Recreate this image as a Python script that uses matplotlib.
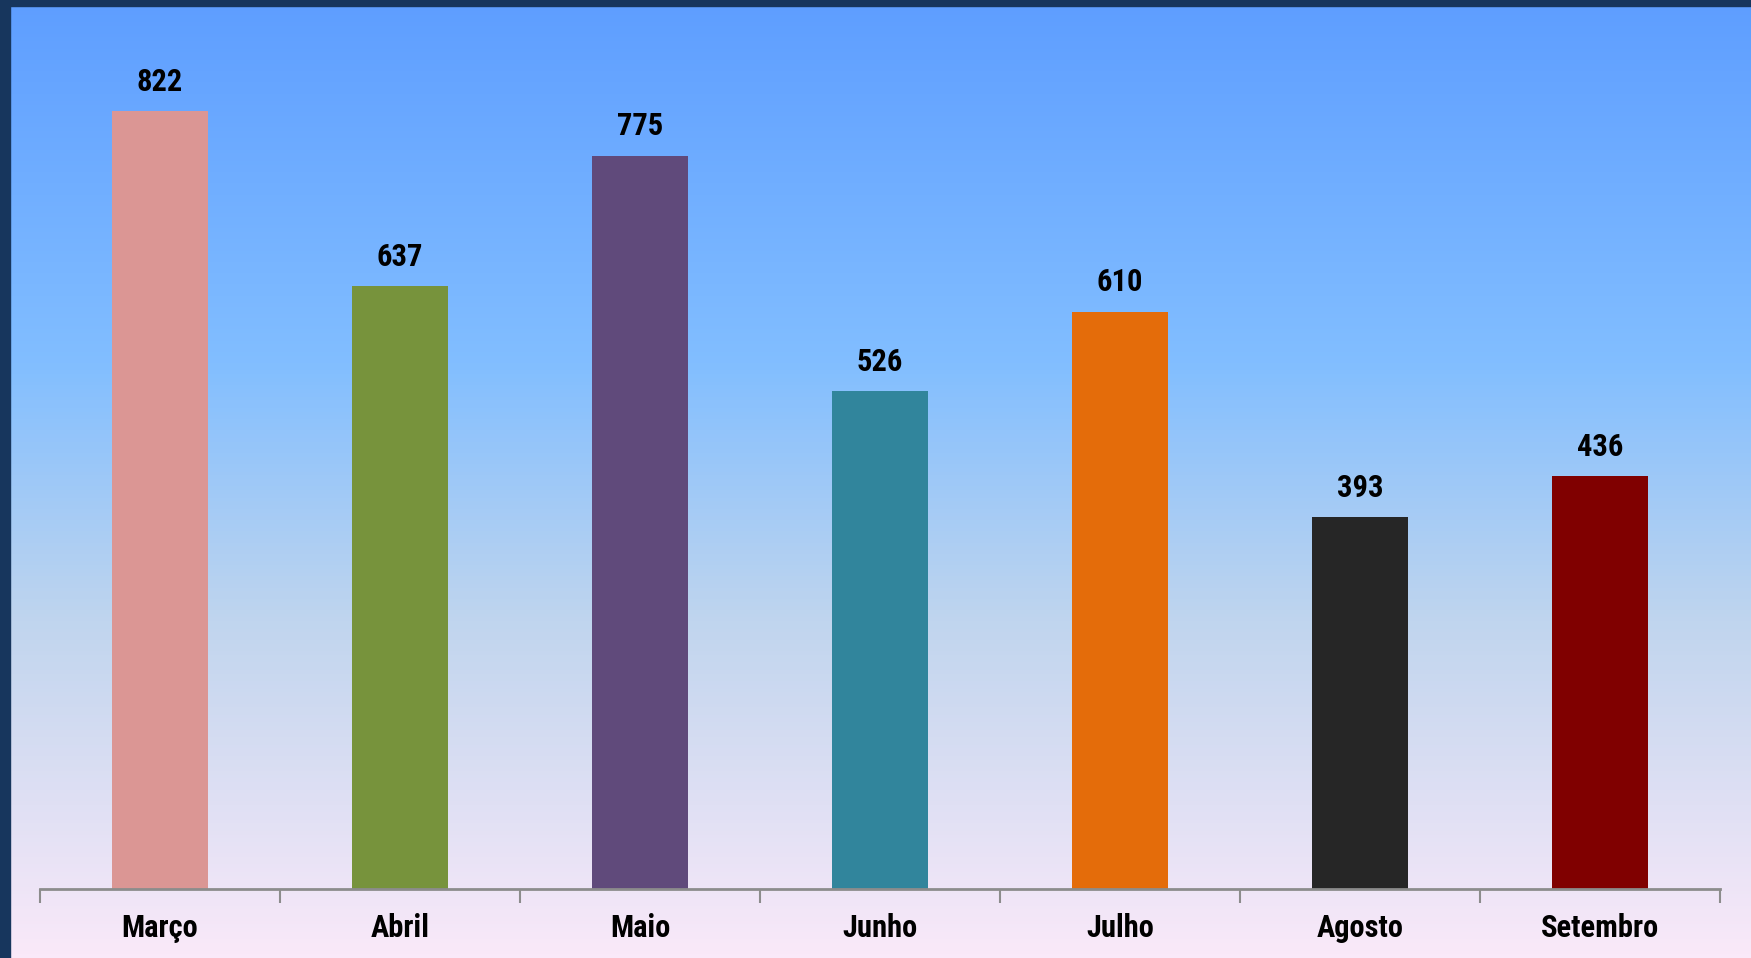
import matplotlib
matplotlib.use("Agg")
import matplotlib.pyplot as plt
import numpy as np
from matplotlib.colors import LinearSegmentedColormap
from matplotlib.patches import Rectangle

months = ["Março", "Abril", "Maio", "Junho", "Julho", "Agosto", "Setembro"]
values = [822, 637, 775, 526, 610, 393, 436]
colors = ["#DB9694", "#77933C", "#604A7B", "#31859C", "#E46C0A", "#262626", "#800000"]

FONT = ["Roboto Condensed", "Liberation Sans Narrow", "Roboto", "DejaVu Sans"]

fig = plt.figure(figsize=(17.51, 9.58), dpi=100)

# background gradient (top blue -> bottom pale pink)
bg = fig.add_axes([0, 0, 1, 1], zorder=0)
cmap = LinearSegmentedColormap.from_list(
    "bg",
    [(0.0, "#5E9EFF"), (0.38, "#82BEFF"), (0.65, "#C0D5EE"), (1.0, "#FAE9F9")],
)
grad = np.linspace(0, 1, 256).reshape(-1, 1)
bg.imshow(grad, aspect="auto", cmap=cmap, extent=[0, 1, 0, 1], origin="upper")
bg.set_axis_off()

# dark frame on left and top
fig.patches.append(Rectangle((0, 0), 10 / 1751, 1, transform=fig.transFigure,
                             color="#17365D", zorder=5))
fig.patches.append(Rectangle((0, 1 - 6 / 958), 1, 6 / 958, transform=fig.transFigure,
                             color="#17365D", zorder=5))

ax = fig.add_axes([40 / 1751, 1 - 889 / 958, 1680 / 1751, 883 / 958], zorder=1)
ax.patch.set_alpha(0)
x = np.arange(len(months))
bars = ax.bar(x, values, width=0.4, color=colors)
ax.set_xlim(-0.5, len(months) - 0.5)
ax.set_ylim(0, 933)

for xi, v in zip(x, values):
    ax.text(xi, v + 15, str(v), ha="center", va="bottom", fontsize=22,
            fontweight="bold", family=FONT)

for s in ["top", "right", "left"]:
    ax.spines[s].set_visible(False)
ax.spines["bottom"].set_color("#8C8C8C")
ax.spines["bottom"].set_linewidth(2)
ax.set_yticks([])
ax.set_xticks(np.arange(-0.5, len(months)), minor=False)
ax.set_xticklabels([])
ax.tick_params(axis="x", which="major", length=10, width=1.5, color="#8C8C8C")
ax.set_xticks(x, minor=True)
ax.set_xticklabels(months, minor=True, fontsize=22, fontweight="bold", family=FONT)
ax.tick_params(axis="x", which="minor", length=0, pad=17)

fig.savefig("out.png", dpi=100)
